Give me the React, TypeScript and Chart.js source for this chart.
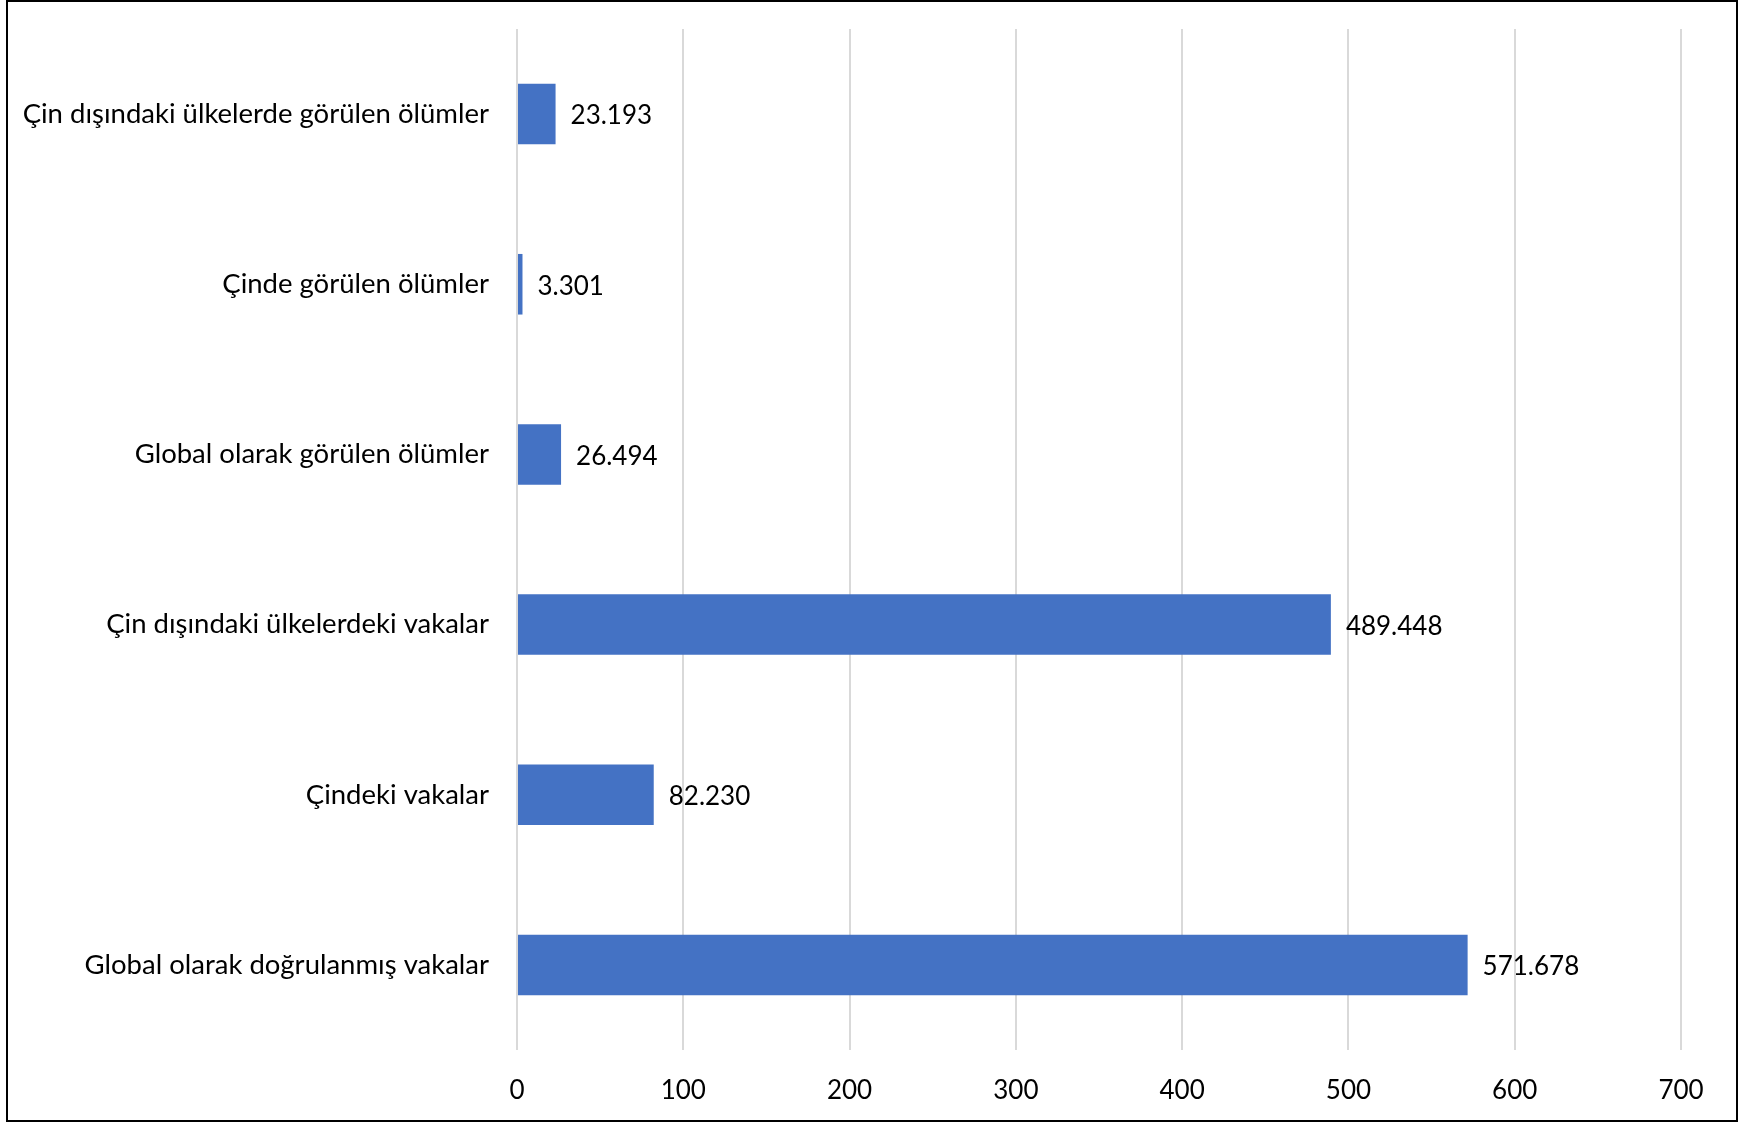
import React, { useEffect, useRef } from "react";
import { Chart, registerables } from "chart.js";

Chart.register(...registerables);

const categories: string[] = [
  "Çin dışındaki ülkelerde görülen ölümler",
  "Çinde görülen ölümler",
  "Global olarak görülen ölümler",
  "Çin dışındaki ülkelerdeki vakalar",
  "Çindeki vakalar",
  "Global olarak doğrulanmış vakalar",
];

const values: number[] = [23.193, 3.301, 26.494, 489.448, 82.23, 571.678];

const xTicks: number[] = [0, 100, 200, 300, 400, 500, 600, 700];

const FONT = "Lato, 'Open Sans', sans-serif";

const valueLabels = {
  id: "valueLabels",
  afterDatasetsDraw(chart: any) {
    const ctx = chart.ctx;
    const meta = chart.getDatasetMeta(0);
    ctx.save();
    ctx.font = `26px ${FONT}`;
    ctx.fillStyle = "#000";
    ctx.textAlign = "left";
    ctx.textBaseline = "middle";
    meta.data.forEach((el: any, i: number) => {
      const v = chart.data.datasets[0].data[i] as number;
      ctx.fillText(v.toFixed(3), el.x + 15, el.y + 2);
    });
    ctx.restore();
  },
};

export default function App() {
  const ref = useRef<HTMLCanvasElement | null>(null);
  useEffect(() => {
    if (!ref.current) return;
    const chart = new Chart(ref.current, {
      type: "bar",
      data: {
        labels: categories,
        datasets: [
          {
            data: values,
            backgroundColor: "#4472C4",
            borderWidth: 0,
            barPercentage: 0.356,
            categoryPercentage: 1,
          },
        ],
      },
      options: {
        indexAxis: "y",
        animation: false,
        responsive: false,
        maintainAspectRatio: false,
        devicePixelRatio: 1,
        layout: { padding: { top: 27, right: 55, left: 0, bottom: 0 } },
        plugins: {
          legend: { display: false },
          tooltip: { enabled: false },
        },
        scales: {
          x: {
            min: 0,
            max: 700,
            afterBuildTicks: (scale: any) => {
              scale.ticks = xTicks.map((v) => ({ value: v }));
            },
            afterFit: (scale: any) => {
              scale.height = 70;
              scale.paddingLeft = 0;
              scale.paddingRight = 0;
            },
            grid: { color: "#d9d9d9", lineWidth: 2, drawTicks: false },
            border: { display: false },
            ticks: {
              padding: 25,
              color: "#000",
              font: { family: FONT, size: 26 },
            },
          },
          y: {
            afterFit: (scale: any) => {
              scale.width = 509;
              scale.paddingTop = 0;
              scale.paddingBottom = 0;
            },
            grid: { display: false, drawTicks: false },
            border: { display: false },
            ticks: {
              padding: 28,
              color: "#000",
              font: { family: FONT, size: 27.5 },
            },
          },
        },
      },
      plugins: [valueLabels],
    });
    return () => chart.destroy();
  }, []);

  return (
    <div
      style={{
        position: "fixed",
        left: 0,
        top: 0,
        width: 1739,
        height: 1122,
        background: "#fff",
      }}
    >
      <div
        style={{
          position: "absolute",
          left: 6,
          top: 0,
          width: 1732,
          height: 1122,
          border: "2px solid #000",
          boxSizing: "border-box",
        }}
      >
        <canvas
          ref={ref}
          width={1728}
          height={1118}
          style={{ display: "block", width: 1728, height: 1118 }}
        />
      </div>
    </div>
  );
}
